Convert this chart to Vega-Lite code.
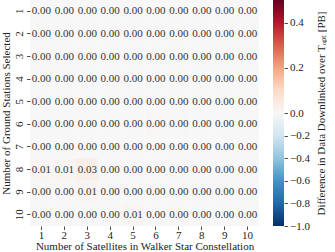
{
  "$schema": "https://vega.github.io/schema/vega-lite/v6.json",
  "padding": 0,
  "background": "white",
  "spacing": 14,
  "config": {
    "font": "Liberation Serif",
    "view": {"stroke": null},
    "axis": {
      "labelFont": "Liberation Serif",
      "titleFont": "Liberation Serif",
      "labelFontSize": 11,
      "titleFontSize": 11,
      "titleFontWeight": "normal",
      "labelColor": "#222",
      "titleColor": "#222",
      "tickColor": "#222",
      "tickSize": 3.5,
      "tickWidth": 0.8,
      "domain": false,
      "grid": false
    }
  },
  "datasets": {
    "cells": [
      {"gs": 1, "sat": 1, "v": 0}, {"gs": 1, "sat": 2, "v": 0}, {"gs": 1, "sat": 3, "v": 0}, {"gs": 1, "sat": 4, "v": 0}, {"gs": 1, "sat": 5, "v": 0}, {"gs": 1, "sat": 6, "v": 0}, {"gs": 1, "sat": 7, "v": 0}, {"gs": 1, "sat": 8, "v": 0}, {"gs": 1, "sat": 9, "v": 0}, {"gs": 1, "sat": 10, "v": 0},
      {"gs": 2, "sat": 1, "v": 0}, {"gs": 2, "sat": 2, "v": 0}, {"gs": 2, "sat": 3, "v": 0}, {"gs": 2, "sat": 4, "v": 0}, {"gs": 2, "sat": 5, "v": 0}, {"gs": 2, "sat": 6, "v": 0}, {"gs": 2, "sat": 7, "v": 0}, {"gs": 2, "sat": 8, "v": 0}, {"gs": 2, "sat": 9, "v": 0}, {"gs": 2, "sat": 10, "v": 0},
      {"gs": 3, "sat": 1, "v": 0}, {"gs": 3, "sat": 2, "v": 0}, {"gs": 3, "sat": 3, "v": 0}, {"gs": 3, "sat": 4, "v": 0}, {"gs": 3, "sat": 5, "v": 0}, {"gs": 3, "sat": 6, "v": 0}, {"gs": 3, "sat": 7, "v": 0}, {"gs": 3, "sat": 8, "v": 0}, {"gs": 3, "sat": 9, "v": 0}, {"gs": 3, "sat": 10, "v": 0},
      {"gs": 4, "sat": 1, "v": 0}, {"gs": 4, "sat": 2, "v": 0}, {"gs": 4, "sat": 3, "v": 0}, {"gs": 4, "sat": 4, "v": 0}, {"gs": 4, "sat": 5, "v": 0}, {"gs": 4, "sat": 6, "v": 0}, {"gs": 4, "sat": 7, "v": 0}, {"gs": 4, "sat": 8, "v": 0}, {"gs": 4, "sat": 9, "v": 0}, {"gs": 4, "sat": 10, "v": 0},
      {"gs": 5, "sat": 1, "v": 0}, {"gs": 5, "sat": 2, "v": 0}, {"gs": 5, "sat": 3, "v": 0}, {"gs": 5, "sat": 4, "v": 0}, {"gs": 5, "sat": 5, "v": 0}, {"gs": 5, "sat": 6, "v": 0}, {"gs": 5, "sat": 7, "v": 0}, {"gs": 5, "sat": 8, "v": 0}, {"gs": 5, "sat": 9, "v": 0}, {"gs": 5, "sat": 10, "v": 0},
      {"gs": 6, "sat": 1, "v": 0}, {"gs": 6, "sat": 2, "v": 0}, {"gs": 6, "sat": 3, "v": 0}, {"gs": 6, "sat": 4, "v": 0}, {"gs": 6, "sat": 5, "v": 0}, {"gs": 6, "sat": 6, "v": 0.004}, {"gs": 6, "sat": 7, "v": 0.003}, {"gs": 6, "sat": 8, "v": 0}, {"gs": 6, "sat": 9, "v": 0}, {"gs": 6, "sat": 10, "v": 0},
      {"gs": 7, "sat": 1, "v": 0}, {"gs": 7, "sat": 2, "v": 0}, {"gs": 7, "sat": 3, "v": 0}, {"gs": 7, "sat": 4, "v": 0}, {"gs": 7, "sat": 5, "v": 0}, {"gs": 7, "sat": 6, "v": 0}, {"gs": 7, "sat": 7, "v": 0}, {"gs": 7, "sat": 8, "v": 0}, {"gs": 7, "sat": 9, "v": 0}, {"gs": 7, "sat": 10, "v": 0},
      {"gs": 8, "sat": 1, "v": 0.01}, {"gs": 8, "sat": 2, "v": 0.01}, {"gs": 8, "sat": 3, "v": 0.03}, {"gs": 8, "sat": 4, "v": 0}, {"gs": 8, "sat": 5, "v": 0}, {"gs": 8, "sat": 6, "v": 0}, {"gs": 8, "sat": 7, "v": 0.003}, {"gs": 8, "sat": 8, "v": 0}, {"gs": 8, "sat": 9, "v": 0}, {"gs": 8, "sat": 10, "v": 0},
      {"gs": 9, "sat": 1, "v": 0}, {"gs": 9, "sat": 2, "v": 0}, {"gs": 9, "sat": 3, "v": 0.01}, {"gs": 9, "sat": 4, "v": 0}, {"gs": 9, "sat": 5, "v": 0}, {"gs": 9, "sat": 6, "v": 0}, {"gs": 9, "sat": 7, "v": 0}, {"gs": 9, "sat": 8, "v": 0}, {"gs": 9, "sat": 9, "v": 0}, {"gs": 9, "sat": 10, "v": 0},
      {"gs": 10, "sat": 1, "v": 0}, {"gs": 10, "sat": 2, "v": 0}, {"gs": 10, "sat": 3, "v": 0}, {"gs": 10, "sat": 4, "v": 0}, {"gs": 10, "sat": 5, "v": 0.01}, {"gs": 10, "sat": 6, "v": 0}, {"gs": 10, "sat": 7, "v": 0}, {"gs": 10, "sat": 8, "v": 0}, {"gs": 10, "sat": 9, "v": 0}, {"gs": 10, "sat": 10, "v": 0}
    ],
    "bar": [{"lo": -1, "hi": 0.5}]
  },
  "hconcat": [
    {
      "width": 229,
      "height": 226,
      "data": {"name": "cells"},
      "encoding": {
        "x": {
          "field": "sat", "type": "ordinal",
          "scale": {"paddingInner": 0, "paddingOuter": 0},
          "axis": {"title": "Number of Satellites in Walker Star Constellation", "labelAngle": 0, "labelPadding": 0, "titlePadding": 0, "labelBaseline": "top"}
        },
        "y": {
          "field": "gs", "type": "ordinal",
          "scale": {"paddingInner": 0, "paddingOuter": 0},
          "axis": {"title": "Number of Ground Stations Selected", "labelAngle": 270, "labelAlign": "center", "labelBaseline": "bottom", "labelPadding": 2, "titlePadding": 2}
        }
      },
      "layer": [
        {
          "mark": {"type": "rect"},
          "encoding": {
            "color": {
              "field": "v", "type": "quantitative", "legend": null,
              "scale": {
                "domain": [-1, -0.8, -0.6, -0.4, -0.2, 0, 0.1, 0.2, 0.3, 0.4, 0.5],
                "range": ["#053061", "#2166ac", "#4393c3", "#92c5de", "#d1e5f0", "#f7f7f7", "#fddbc7", "#f4a582", "#d6604d", "#b2182b", "#67001f"]
              }
            }
          }
        },
        {
          "mark": {"type": "text", "fontSize": 11, "color": "#333", "font": "Liberation Serif"},
          "encoding": {"text": {"field": "v", "type": "quantitative", "format": ".2f"}}
        }
      ]
    },
    {
      "width": 11,
      "height": 226,
      "data": {"name": "bar"},
      "mark": {
        "type": "rect",
        "color": {
          "gradient": "linear", "x1": 0, "y1": 1, "x2": 0, "y2": 0,
          "stops": [
            {"offset": 0, "color": "#053061"}, {"offset": 0.1, "color": "#2166ac"}, {"offset": 0.2, "color": "#4393c3"},
            {"offset": 0.3, "color": "#92c5de"}, {"offset": 0.4, "color": "#d1e5f0"}, {"offset": 0.5, "color": "#f7f7f7"},
            {"offset": 0.6, "color": "#fddbc7"}, {"offset": 0.7, "color": "#f4a582"}, {"offset": 0.8, "color": "#d6604d"},
            {"offset": 0.9, "color": "#b2182b"}, {"offset": 1, "color": "#67001f"}
          ]
        }
      },
      "encoding": {
        "y": {
          "field": "lo", "type": "quantitative",
          "scale": {"domain": [-1, 0, 0.5], "range": [226, 113, 0], "nice": false, "zero": false},
          "axis": {
            "orient": "right",
            "values": [-1, -0.8, -0.6, -0.4, -0.2, 0, 0.2, 0.4],
            "format": ".1f",
            "title": "Difference in Data Downlinked over Tₒₚₜ [PB]",
            "titleAngle": 270,
            "titleBaseline": "top",
            "labelPadding": 2,
            "titlePadding": 6
          }
        },
        "y2": {"field": "hi"}
      }
    }
  ]
}
